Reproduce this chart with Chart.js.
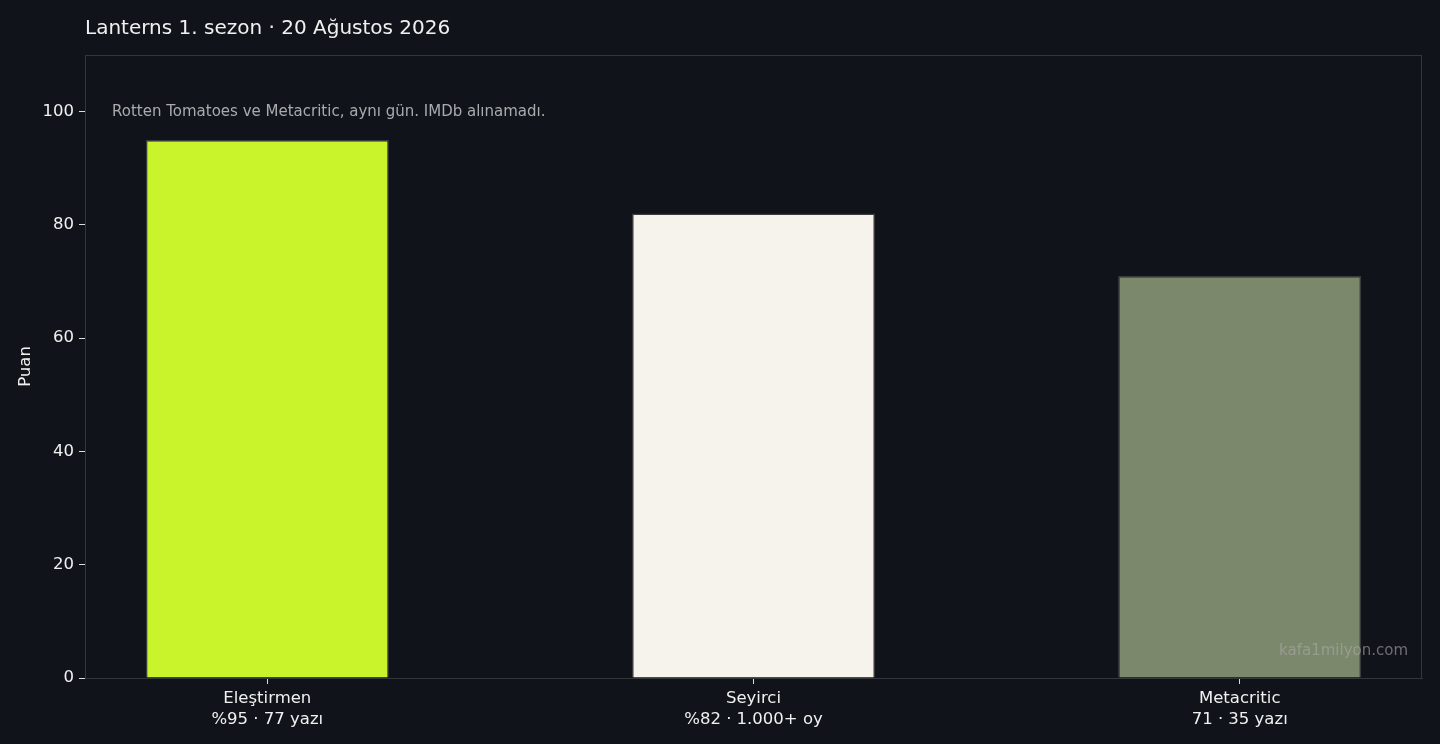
<!DOCTYPE html>
<html>
<head>
<meta charset="utf-8">
<script src="https://cdn.jsdelivr.net/npm/chart.js@4/dist/chart.umd.min.js"></script>
<style>
  html, body { margin: 0; padding: 0; background: #10131a; }
  #wrap { width: 1440px; height: 744px; }
</style>
</head>
<body>
<div id="wrap"><canvas id="puanChart" width="1440" height="744"></canvas></div>
<script>
// veriler
const kategoriler = ['Eleştirmen', 'Seyirci', 'Metacritic'];
const altEtiketler = ['%95 · 77 yazı', '%82 · 1.000+ oy', '71 · 35 yazı'];
const puanlar = [95, 82, 71];
const renkler = ['#c9f42b', '#f5f3ec', '#7c886b'];
const yTikler = [0, 20, 40, 60, 80, 100];

const baslik = 'Lanterns 1. sezon · 20 Ağustos 2026';
const notMetni = 'Rotten Tomatoes ve Metacritic, aynı gün. IMDb alınamadı.';
const filigran = 'kafa1milyon.com';

const FONT = "'DejaVu Sans', sans-serif";

// başlık, not, filigran ve çerçeve
const ekstraCizim = {
  id: 'ekstraCizim',
  afterDraw(chart) {
    const { ctx, chartArea } = chart;
    ctx.save();
    ctx.strokeStyle = '#33363a';
    ctx.lineWidth = 1;
    ctx.strokeRect(chartArea.left + 0.5, chartArea.top + 0.5,
      chartArea.right - chartArea.left - 1, chartArea.bottom - chartArea.top);

    ctx.fillStyle = '#f0f0f0';
    ctx.font = '20px ' + FONT;
    ctx.textBaseline = 'middle';
    ctx.textAlign = 'left';
    ctx.fillText(baslik, chartArea.left, 29);

    ctx.fillStyle = '#a9abad';
    ctx.font = '15px ' + FONT;
    ctx.fillText(notMetni, chartArea.left + 27, 112);

    ctx.fillStyle = 'rgba(170,170,170,0.6)';
    ctx.textAlign = 'right';
    ctx.fillText(filigran, chartArea.right - 14, 651);
    ctx.restore();
  }
};

const ctx = document.getElementById('puanChart').getContext('2d');
new Chart(ctx, {
  type: 'bar',
  data: {
    datasets: [{
      data: puanlar.map((p, i) => ({ x: i, y: p })),
      backgroundColor: renkler,
      borderColor: '#3a3b3d',
      borderWidth: 1.5,
      barPercentage: 0.5,
      categoryPercentage: 1
    }]
  },
  options: {
    responsive: false,
    animation: false,
    layout: { padding: { top: 55, right: 18, left: 0, bottom: 0 } },
    plugins: {
      legend: { display: false },
      tooltip: { enabled: false }
    },
    scales: {
      x: {
        type: 'linear',
        min: -0.375,
        max: 2.375,
        offset: false,
        afterBuildTicks(axis) { axis.ticks = [0, 1, 2].map(v => ({ value: v })); },
        afterFit(axis) { axis.height = 66; },
        grid: { offset: false, drawOnChartArea: false, tickLength: 6, tickColor: '#dddddd' },
        border: { color: '#33363a' },
        ticks: {
          color: '#f0f0f0',
          font: { family: FONT, size: 16.5, lineHeight: 1.28 },
          padding: 4,
          maxRotation: 0,
          callback: (v) => [kategoriler[v], altEtiketler[v]]
        }
      },
      y: {
        min: 0,
        max: 110,
        afterBuildTicks(axis) { axis.ticks = yTikler.map(v => ({ value: v })); },
        afterFit(axis) { axis.width = 85; },
        grid: { drawOnChartArea: false, tickLength: 6, tickColor: '#dddddd' },
        border: { color: '#33363a' },
        title: {
          display: true,
          text: 'Puan',
          color: '#f0f0f0',
          font: { family: FONT, size: 16.5 },
          padding: { top: 16, bottom: 0 }
        },
        ticks: {
          color: '#f0f0f0',
          font: { family: FONT, size: 16.5 },
          padding: 5
        }
      }
    }
  },
  plugins: [ekstraCizim]
});
</script>
</body>
</html>
